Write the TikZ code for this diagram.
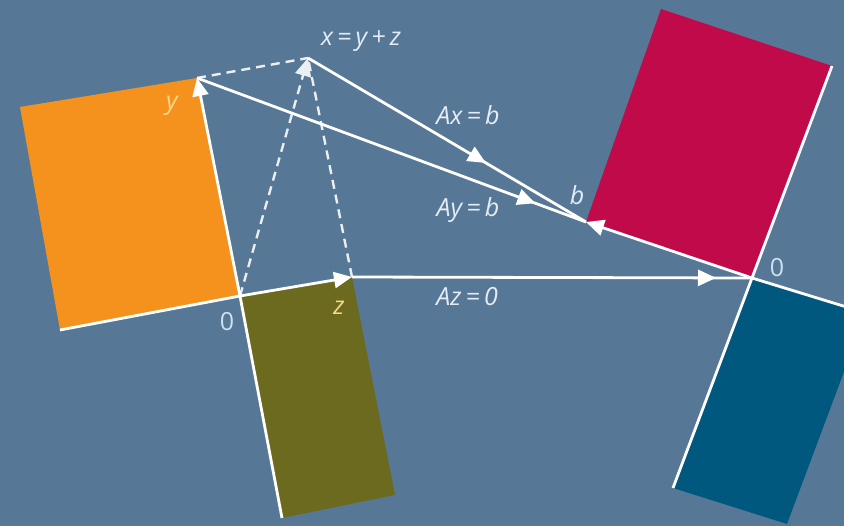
\documentclass[tikz,border=0pt]{standalone}
\usepackage{fontspec}
\setmainfont{Open Sans}
\usetikzlibrary{arrows.meta,decorations.markings}
\definecolor{bg}{RGB}{86,120,150}
\definecolor{orng}{RGB}{245,146,30}
\definecolor{olv}{RGB}{108,106,30}
\definecolor{crim}{RGB}{192,10,74}
\definecolor{dblue}{RGB}{0,88,126}
\definecolor{txt}{RGB}{228,236,245}
\definecolor{cream}{RGB}{245,218,140}
\definecolor{zero}{RGB}{205,224,240}
\tikzset{
  axisline/.style={draw=white, line width=2.8pt},
  vec/.style={axisline, -{Triangle[length=18pt,width=16pt]}},
  dsh/.style={draw=white!88!bg, line width=2.4pt, dash pattern=on 9pt off 6pt},
  midarrow/.style={decoration={markings, mark=at position #1 with {\arrow{Triangle[length=18pt,width=16pt]}}}, postaction={decorate}},
  lbl/.style={font=\fontsize{25}{28}\selectfont\itshape, text=txt, inner sep=0pt},
  zlbl/.style={font=\fontsize{25}{28}\selectfont, text=zero, inner sep=0pt},
  clbl/.style={font=\fontsize{25}{28}\selectfont\itshape, text=cream, inner sep=0pt},
}
\begin{document}
\begin{tikzpicture}[x=1pt,y=-1pt]
\useasboundingbox (0,0) rectangle (844,526);
\fill[bg] (0,0) rectangle (844,526);
\clip (0,0) rectangle (844,526);
% key points
\coordinate (O) at (240,296);
\coordinate (Y) at (197,78);
\coordinate (Z) at (352,277);
\coordinate (X) at (308,58);
\coordinate (B) at (586,222);
\coordinate (Op) at (752,278);
\coordinate (OL) at (60,330);
\coordinate (OT) at (20,107);
\coordinate (ZB) at (395,495);
\coordinate (NB) at (282,518);
\coordinate (RT) at (661,9);
\coordinate (RR) at (832,66);
\coordinate (BR) at (866,313);
\coordinate (BB) at (787,524);
\coordinate (BL) at (673,488);
% regions
\fill[orng] (OT) -- (Y) -- (O) -- (OL) -- cycle;
\fill[olv] (O) -- (Z) -- (ZB) -- (NB) -- cycle;
\fill[crim] (B) -- (RT) -- (RR) -- (Op) -- cycle;
\fill[dblue] (Op) -- (BR) -- (BB) -- (BL) -- cycle;
% axes
\draw[axisline] (OL) -- (O);
\draw[axisline] (O) -- (NB);
\draw[axisline] (RR) -- (Op) -- (BL);
\draw[axisline] (Op) -- (BR);
% dashed parallelogram
\draw[dsh] (Y) -- (X);
\draw[dsh] (Z) -- (X);
\draw[dsh, -{Triangle[length=18pt,width=16pt]}] (O) -- (X);
% vectors
\draw[vec] (O) -- (Y);
\draw[vec] (O) -- (Z);
\draw[vec] (Op) -- (B);
\draw[axisline, midarrow=0.64] (X) -- (B);
\draw[axisline, midarrow=0.87] (Y) -- (B);
\draw[axisline, midarrow=0.91] (Z) -- (Op);
% labels
\node[lbl] (lx) at (361,41) {x\,=\,y\,+\,z};
\node[clbl] (ly) at (172,106) {y};
\node[clbl] (lz) at (339,308) {z};
\node[zlbl] (l0) at (227,322) {0};
\node[zlbl] (l0p) at (777,268) {0};
\node[lbl] (lax) at (468,115) {Ax\,=\,b};
\node[lbl] (lay) at (468,210) {Ay\,=\,b};
\node[lbl] (lb) at (577,195) {b};
\node[lbl] (laz) at (467,297) {Az\,=\,0};
\end{tikzpicture}
\end{document}
